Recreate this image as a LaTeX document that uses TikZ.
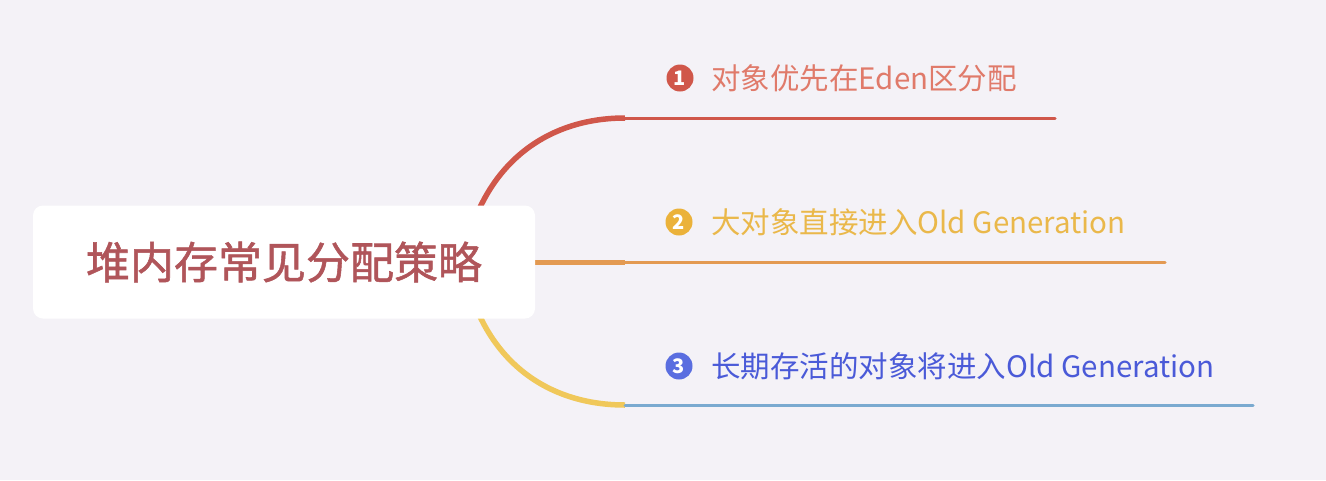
\documentclass[tikz,border=0pt]{standalone}
\usepackage{fontspec}
\newfontfamily\cjk{Noto Sans CJK SC}
\newfontfamily\cjkmed[RawFeature={embolden=1.2}]{Noto Sans CJK SC}
\definecolor{bg}{HTML}{F4F2F7}
\definecolor{rootc}{HTML}{B0555A}
\definecolor{redl}{HTML}{D0574A}
\definecolor{redt}{HTML}{E07A6A}
\definecolor{orl}{HTML}{E39A52}
\definecolor{goldc}{HTML}{EBB23A}
\definecolor{goldt}{HTML}{EAB84A}
\definecolor{yell}{HTML}{F0C85A}
\definecolor{bluel}{HTML}{7AAAD0}
\definecolor{bluec}{HTML}{5A6EE0}
\definecolor{bluet}{HTML}{4A5AD8}
\tikzset{
  rootbox/.style={fill=white, rounded corners=10pt, minimum width=502pt, minimum height=113pt, inner sep=0pt, font=\cjkmed\fontsize{44}{52}\selectfont, text=rootc},
  numdot/.style={circle, inner sep=0pt, minimum size=27pt, text=white, font=\cjk\bfseries\fontsize{20}{22}\selectfont},
  lab/.style={anchor=west, inner sep=0pt, font=\cjk\fontsize{29.5}{34}\selectfont},
  branch/.style={line width=3pt, line cap=round},
  stem/.style={line width=5pt},
}
\begin{document}
\begin{tikzpicture}[x=1pt,y=-1pt]
\fill[bg] (0,0) rectangle (1326,480);
\useasboundingbox (0,0) rectangle (1326,480);
% coordinates
\coordinate (s1) at (468,240);
\coordinate (j1) at (625,118);
\coordinate (e1) at (1055,118);
\coordinate (s2) at (520,262);
\coordinate (j2) at (625,262);
\coordinate (e2) at (1165,262);
\coordinate (s3) at (468,284);
\coordinate (j3) at (625,405);
\coordinate (e3) at (1253,405);
% branches
\draw[redl, line width=5.5pt] (s1) .. controls (490,160) and (550,118) .. (j1);
\draw[redl, branch] (j1) -- (e1);
\draw[orl, stem] (s2) -- (j2);
\draw[orl, branch] (j2) -- (e2);
\draw[yell, line width=5.5pt] (s3) .. controls (490,364) and (550,405) .. (j3);
\draw[bluel, branch] (j3) -- (e3);
% root
\node[rootbox] (root) at (284,262) {堆内存常见分配策略};
% labels
\node[numdot, fill=redl] (n1) at (680,78) {1};
\node[lab, text=redt] (t1) at (711,78) {对象优先在Eden区分配};
\node[numdot, fill=goldc] (n2) at (679,222) {2};
\node[lab, text=goldt] (t2) at (711,222) {大对象直接进入Old Generation};
\node[numdot, fill=bluec] (n3) at (679,366) {3};
\node[lab, text=bluet] (t3) at (711,366) {长期存活的对象将进入Old Generation};
\end{tikzpicture}
\end{document}
